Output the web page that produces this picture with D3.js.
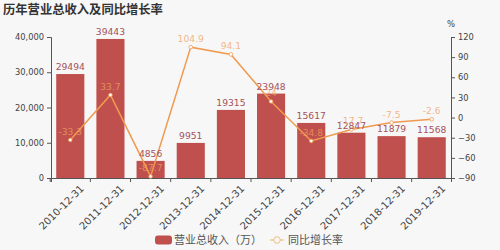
<!DOCTYPE html>
<html>
<head>
<meta charset="utf-8">
<script src="https://cdn.jsdelivr.net/npm/d3@7"></script>
<style>
  body { margin: 0; background: #f7f7f7; }
  svg { display: block; font-family: "DejaVu Sans", "Noto Sans CJK SC", sans-serif; }
</style>
</head>
<body>
<div id="chart"></div>
<script>
// chart data
var years = ["2010-12-31", "2011-12-31", "2012-12-31", "2013-12-31", "2014-12-31",
             "2015-12-31", "2016-12-31", "2017-12-31", "2018-12-31", "2019-12-31"];
var revenue = [29494, 39443, 4856, 9951, 19315, 23948, 15617, 12847, 11879, 11568];
var growth = [-33.3, 33.7, -87.7, 104.9, 94.1, 24, -34.8, -17.7, -7.5, -2.6];
var leftTicks = [0, 10000, 20000, 30000, 40000];
var rightTicks = [-90, -60, -30, 0, 30, 60, 90, 120];

var width = 500, height = 250;
var margin = { top: 37, right: 49, bottom: 72, left: 51 };
var w = width - margin.left - margin.right;
var h = height - margin.top - margin.bottom;

var svg = d3.select("#chart").append("svg")
    .attr("width", width)
    .attr("height", height);

svg.append("rect").attr("width", width).attr("height", height).attr("fill", "#f7f7f7");

// title
svg.append("text")
    .attr("x", 3).attr("y", 14)
    .attr("font-size", 12.3).attr("font-weight", "bold")
    .attr("fill", "#333")
    .text("历年营业总收入及同比增长率");

var g = svg.append("g")
    .attr("transform", "translate(" + margin.left + "," + margin.top + ")");

var x = d3.scaleBand().domain(years).range([0, w]).paddingInner(0.3).paddingOuter(0.13);
var y = d3.scaleLinear().domain([0, 40000]).range([h, 0]);
var y2 = d3.scaleLinear().domain([-90, 120]).range([h, 0]);

// bars
g.selectAll("rect.bar")
    .data(revenue)
    .enter().append("rect")
    .attr("class", "bar")
    .attr("x", (d, i) => x(years[i]))
    .attr("y", d => y(d))
    .attr("width", x.bandwidth())
    .attr("height", d => h - y(d))
    .attr("fill", "#c0504d");

// axes
var leftAxis = g.append("g")
    .call(d3.axisLeft(y).tickValues(leftTicks).tickFormat(d3.format(",")).tickSize(4));
var rightAxis = g.append("g")
    .attr("transform", "translate(" + w + ",0)")
    .call(d3.axisRight(y2).tickValues(rightTicks).tickSize(4));
var bottomAxis = g.append("g")
    .attr("transform", "translate(0," + h + ")")
    .call(d3.axisBottom(x).tickSize(4).tickSizeOuter(4));

// ticks on bottom sit between bands
var step = x.step();
bottomAxis.selectAll(".tick line").attr("x1", -step / 2).attr("x2", -step / 2);

[leftAxis, rightAxis, bottomAxis].forEach(function (a) {
  a.selectAll("path, line").attr("stroke", "#555");
  a.selectAll("text").attr("fill", "#444").attr("font-size", 8.3)
      .attr("font-family", "DejaVu Sans, sans-serif");
});
bottomAxis.selectAll(".tick text")
    .attr("font-size", 10)
    .attr("text-anchor", "end")
    .attr("transform", "translate(5,2) rotate(-45)")
    .attr("dy", "0.6em");

svg.append("text")
    .attr("x", margin.left + w - 4).attr("y", 27)
    .attr("font-size", 8.5).attr("fill", "#444")
    .text("%");

// growth line
var line = d3.line()
    .x((d, i) => x(years[i]) + x.bandwidth() / 2)
    .y(d => y2(d));

g.append("path")
    .datum(growth)
    .attr("fill", "none")
    .attr("stroke", "#f09a50")
    .attr("stroke-width", 1.5)
    .attr("d", line);

g.selectAll("circle.pt")
    .data(growth)
    .enter().append("circle")
    .attr("cx", (d, i) => x(years[i]) + x.bandwidth() / 2)
    .attr("cy", d => y2(d))
    .attr("r", 1.8)
    .attr("fill", "#fff")
    .attr("stroke", "#f09a50")
    .attr("stroke-width", 0.8);

// bar labels
g.selectAll("text.blab")
    .data(revenue)
    .enter().append("text")
    .attr("x", (d, i) => x(years[i]) + x.bandwidth() / 2)
    .attr("y", d => y(d) - 4)
    .attr("text-anchor", "middle")
    .attr("font-size", 9.2)
    .attr("fill", "#a5525a")
    .text(d => d);

// line labels
g.selectAll("text.llab")
    .data(growth)
    .enter().append("text")
    .attr("x", (d, i) => x(years[i]) + x.bandwidth() / 2)
    .attr("y", d => y2(d) - 5)
    .attr("text-anchor", "middle")
    .attr("font-size", 9.2)
    .attr("fill", "#f0a060")
    .attr("fill-opacity", 0.75)
    .text(d => d);

// legend
var lg = svg.append("g").attr("transform", "translate(0,240)");
lg.append("rect")
    .attr("x", 155).attr("y", -4.5).attr("width", 17).attr("height", 9)
    .attr("rx", 3).attr("fill", "#c0504d");
lg.append("text")
    .attr("x", 174).attr("y", 4)
    .attr("font-size", 11).attr("fill", "#555")
    .text("营业总收入（万）");
lg.append("line")
    .attr("x1", 270).attr("x2", 284).attr("y1", 0).attr("y2", 0)
    .attr("stroke", "#f0c080").attr("stroke-width", 1.2);
lg.append("circle")
    .attr("cx", 277).attr("cy", 0).attr("r", 3.3)
    .attr("fill", "#f7f7f7").attr("stroke", "#f0c080").attr("stroke-width", 1);
lg.append("text")
    .attr("x", 288).attr("y", 4)
    .attr("font-size", 11).attr("fill", "#555")
    .text("同比增长率");
</script>
</body>
</html>
